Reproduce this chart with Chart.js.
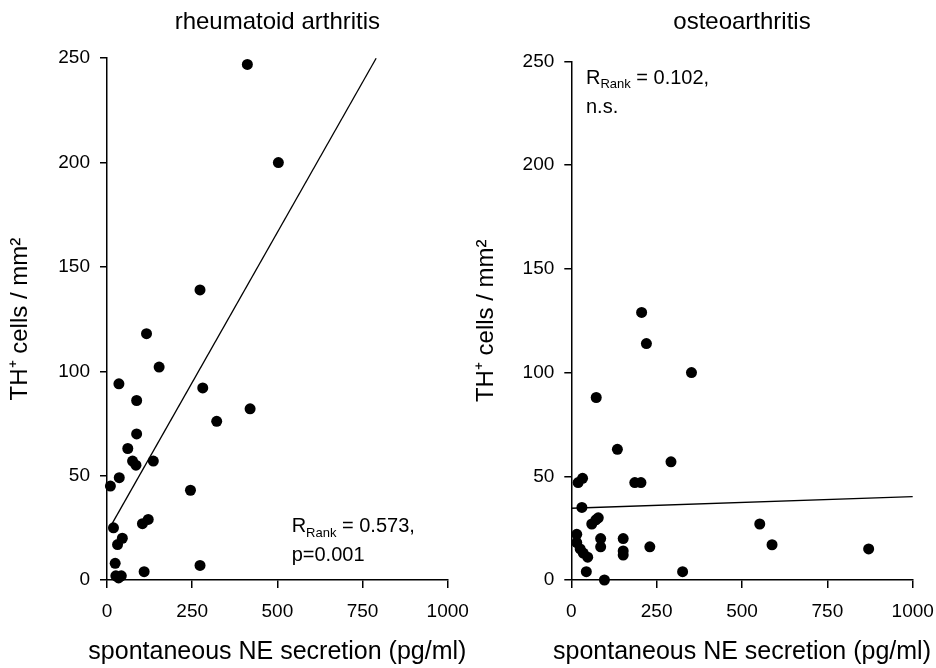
<!DOCTYPE html>
<html>
<head>
<meta charset="utf-8">
<script src="https://cdn.jsdelivr.net/npm/chart.js@4.4.1/dist/chart.umd.min.js"></script>
<style>
    body { margin: 0; background: #fff; }
    #wrap { position: relative; width: 936px; height: 668px; overflow: hidden; background: #fff; }
    canvas { position: absolute; top: 0; }
    #raChart { left: 0; }
    #oaChart { left: 466px; }
</style>
</head>
<body>
<div id="wrap">
    <canvas id="raChart" width="482" height="668"></canvas>
    <canvas id="oaChart" width="482" height="668"></canvas>
</div>
<script>
// ================================
// Data
// ================================

const xTicks = [0, 250, 500, 750, 1000];
const yTicks = [0, 50, 100, 150, 200, 250];

// rheumatoid arthritis: NE secretion (pg/ml) vs TH+ cells / mm2
const raNE = [412, 503, 273, 116, 153, 35, 281, 87, 420, 322, 87, 61, 75, 85, 136, 36, 10, 245, 19, 104, 121, 45, 31, 24, 273, 109, 26, 34, 42];
const raTH = [247, 200, 139, 118, 102, 94, 92, 86, 82, 76, 70, 63, 57, 55, 57, 49, 45, 43, 25, 27, 29, 20, 17, 8, 7, 4, 2, 1, 2];

// osteoarthritis
const oaNE = [206, 220, 352, 73, 135, 292, 20, 33, 186, 204, 31, 60, 72, 79, 16, 16, 26, 35, 48, 86, 86, 152, 152, 152, 230, 44, 97, 326, 552, 588, 871];
const oaTH = [129, 114, 100, 88, 63, 57, 47, 49, 47, 47, 35, 27, 29, 30, 22, 18, 15, 13, 11, 20, 16, 20, 14, 12, 16, 4, 0, 4, 27, 17, 15];

// regression lines (end points)
const raFitNE = [15, 790];
const raFitTH = [27, 250];
const oaFitNE = [0, 1000];
const oaFitTH = [34.6, 40.2];

const xTitle = "spontaneous NE secretion (pg/ml)";
const yTitle = "TH\u207A cells / mm\u00B2";

const FONT = "'Liberation Sans', Arial, Helvetica, sans-serif";

// ================================
// R(Rank) text + x title plugin
// ================================

const notePlugin = {
    id: "note",
    afterDatasetsDraw(chart, args, opts) {
        const ctx = chart.ctx;
        const px = chart.scales.x.getPixelForValue(opts.at[0]);
        const py = chart.scales.y.getPixelForValue(opts.at[1]);

        ctx.save();
        ctx.fillStyle = "#000";
        ctx.textAlign = "left";
        ctx.textBaseline = "alphabetic";

        ctx.font = "20px " + FONT;
        ctx.fillText("R", px, py);
        let w = ctx.measureText("R").width;

        ctx.font = "13px " + FONT;
        ctx.fillText("Rank", px + w, py + 4.5);
        w += ctx.measureText("Rank").width;

        ctx.font = "20px " + FONT;
        ctx.fillText(" = " + opts.r, px + w, py);
        ctx.fillText(opts.second, px, py + 29);

        // x axis title (wider than the plot area, so not the scale title)
        const area = chart.chartArea;
        ctx.font = "25px " + FONT;
        ctx.textAlign = "center";
        ctx.textBaseline = "middle";
        ctx.fillText(xTitle, (area.left + area.right) / 2, chart.scales.x.bottom - 16);

        ctx.restore();
    }
};

// ================================
// Chart builder
// ================================

function makeChart(id, title, ne, th, fitNE, fitTH, cfg) {

    const points = ne.map((v, i) => ({ x: v, y: th[i] }));
    const fit = fitNE.map((v, i) => ({ x: v, y: fitTH[i] }));

    return new Chart(document.getElementById(id), {
        type: "scatter",
        data: {
            datasets: [
                {
                    data: points,
                    pointRadius: 5.5,
                    pointHoverRadius: 5.5,
                    backgroundColor: "#000",
                    borderWidth: 0,
                    clip: false
                },
                {
                    type: "line",
                    data: fit,
                    showLine: true,
                    borderColor: "#000",
                    borderWidth: 1.3,
                    pointRadius: 0,
                    fill: false,
                    clip: false
                }
            ]
        },
        plugins: [notePlugin],
        options: {
            responsive: false,
            animation: false,
            layout: {
                padding: { left: 0, right: cfg.padRight, top: 0, bottom: 0 }
            },
            plugins: {
                legend: { display: false },
                tooltip: { enabled: false },
                title: {
                    display: true,
                    text: title,
                    fullSize: false,
                    color: "#000",
                    font: { family: FONT, size: 24, weight: "normal" },
                    padding: { top: 8, bottom: cfg.titleBottom }
                },
                note: cfg.note
            },
            scales: {
                x: {
                    type: "linear",
                    min: 0,
                    max: 1000,
                    afterBuildTicks: s => { s.ticks = xTicks.map(v => ({ value: v })); },
                    afterFit: s => { s.height = 88; },
                    grid: {
                        drawOnChartArea: false,
                        drawTicks: true,
                        tickLength: 8,
                        color: "#000",
                        lineWidth: 1.5
                    },
                    border: { display: true, color: "#000", width: 1.5 },
                    ticks: {
                        color: "#000",
                        font: { family: FONT, size: 19 },
                        padding: 12,
                        maxRotation: 0,
                        callback: v => String(v)
                    },
                    title: { display: false }
                },
                y: {
                    type: "linear",
                    min: 0,
                    max: 250,
                    afterBuildTicks: s => { s.ticks = yTicks.map(v => ({ value: v })); },
                    afterFit: s => { s.width = cfg.yWidth; },
                    grid: {
                        drawOnChartArea: false,
                        drawTicks: true,
                        tickLength: 7,
                        color: "#000",
                        lineWidth: 1.5
                    },
                    border: { display: true, color: "#000", width: 1.5 },
                    ticks: {
                        color: "#000",
                        font: { family: FONT, size: 19 },
                        padding: 10,
                        callback: v => String(v)
                    },
                    title: {
                        display: true,
                        text: yTitle,
                        color: "#000",
                        font: { family: FONT, size: 24 },
                        padding: { top: 6, bottom: 0 }
                    }
                }
            }
        }
    });
}

// ================================
// Draw
// ================================

makeChart("raChart", "rheumatoid arthritis", raNE, raTH, raFitNE, raFitTH, {
    yWidth: 107,
    padRight: 34.3,
    titleBottom: 21.4,
    note: { at: [542, 22.8], r: "0.573,", second: "p=0.001" }
});

makeChart("oaChart", "osteoarthritis", oaNE, oaTH, oaFitNE, oaFitTH, {
    yWidth: 105.3,
    padRight: 35.3,
    titleBottom: 24.7,
    note: { at: [43, 239.3], r: "0.102,", second: "n.s." }
});
</script>
</body>
</html>
